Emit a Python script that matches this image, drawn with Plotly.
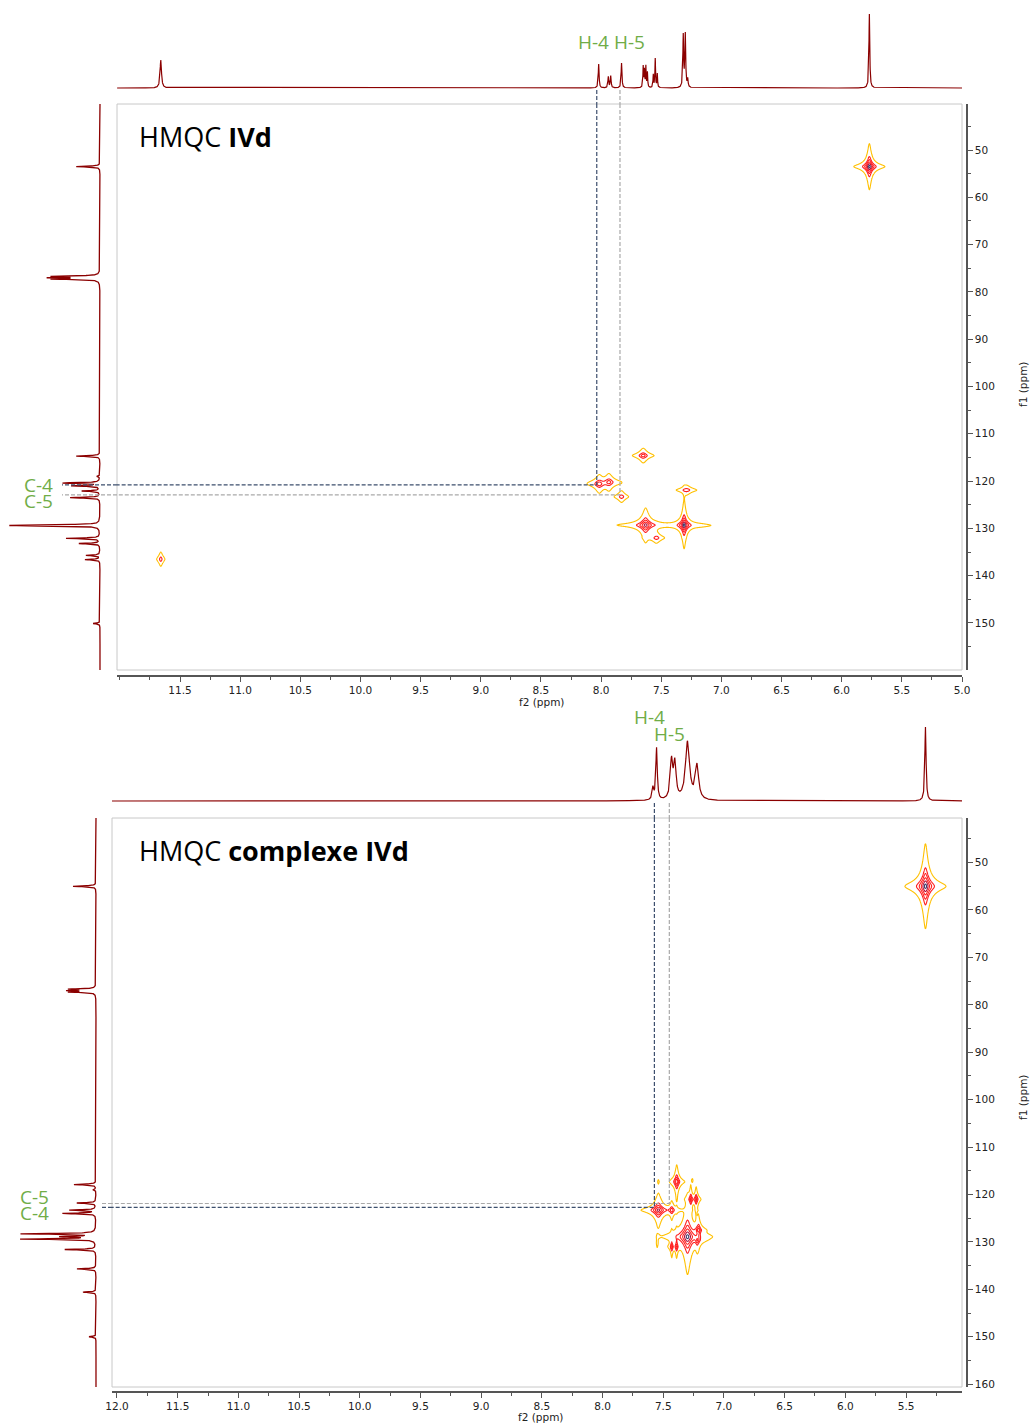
import numpy as np
import plotly.graph_objects as go

W, H = 1030, 1424

# ---------------- data : top experiment (HMQC IVd) ----------------
TOP_X_RANGE = [12.024, 5.0]
TOP_Y_RANGE = [159.94, 40.27]
TOP_X_TICKS = [11.5, 11.0, 10.5, 10.0, 9.5, 9.0, 8.5, 8.0, 7.5, 7.0, 6.5, 6.0, 5.5, 5.0]
TOP_Y_TICKS = [50, 60, 70, 80, 90, 100, 110, 120, 130, 140, 150]

H1_TOP_PPM = [11.66, 8.02, 7.94, 7.92, 7.83, 7.650, 7.640, 7.628, 7.615,
              7.566, 7.550, 7.533, 7.317, 7.300, 7.280, 5.77]
H1_TOP_INT = [28, 24, 11, 12, 25, 21, 17, 21, 15, 13, 29, 14, 52, 53, 8, 74]
H1_TOP_HWHM = [0.007, 0.004, 0.004, 0.004, 0.004, 0.003, 0.003, 0.003, 0.003,
               0.003, 0.003, 0.003, 0.004, 0.004, 0.004, 0.004]

C13_TOP_PPM = [53.5, 76.7, 77.0, 77.3, 114.7, 119.0, 120.4, 121.0, 122.1, 123.5,
               129.2, 129.4, 132.1, 133.2, 135.7, 136.6, 150.1]
C13_TOP_INT = [24, 44, 45, 44, 24, 3, 37, 28, 18, 30, 16, 88, 34, 21, 14, 15, 7]

# cross peaks: f2 (1H), f1 (13C), amplitude, f2 width, f1 width, group
XP_TOP_F2 = [5.77, 11.66, 7.65, 8.015, 7.935, 7.83, 7.29, 7.63, 7.63, 7.31, 7.18, 7.54]
XP_TOP_F1 = [53.5, 136.5, 114.6, 120.6, 120.2, 123.3, 121.9, 129.3, 129.3, 129.3, 129.4, 132.0]
XP_TOP_AMP = [1.0, 0.08, 0.14, 0.15, 0.13, 0.08, 0.09, 0.5, 0.012, 1.0, 0.012, 0.08]
XP_TOP_W2 = [0.013, 0.013, 0.025, 0.025, 0.025, 0.022, 0.03, 0.022, 0.2, 0.012, 0.08, 0.025]
XP_TOP_W1 = [0.49, 0.57, 0.42, 0.5, 0.5, 0.45, 0.35, 0.51, 0.3, 0.5, 0.3, 0.42]
XP_TOP_GROUP = [0, 1, 2, 2, 2, 2, 2, 2, 2, 2, 2, 2]

LINK_TOP_F2 = [8.036, 7.843]
LINK_TOP_F1 = [120.8, 122.9]

# ---------------- data : bottom experiment (HMQC complexe IVd) ----------------
BOT_X_RANGE = [12.041, 5.039]
BOT_Y_RANGE = [160.6, 40.6]
BOT_X_TICKS = [12.0, 11.5, 11.0, 10.5, 10.0, 9.5, 9.0, 8.5, 8.0, 7.5, 7.0, 6.5, 6.0, 5.5]
BOT_Y_TICKS = [50, 60, 70, 80, 90, 100, 110, 120, 130, 140, 150, 160]

H1_BOT_PPM = [7.585, 7.555, 7.432, 7.404, 7.300, 7.222, 5.34]
H1_BOT_INT = [12, 52, 38, 35, 58, 34, 74]
H1_BOT_HWHM = [0.008, 0.007, 0.012, 0.012, 0.02, 0.016, 0.006]

C13_BOT_PPM = [55.0, 76.7, 77.0, 77.3, 117.9, 119.0, 121.8, 123.3, 124.0,
               128.3, 128.9, 129.4, 131.6, 135.7, 140.6, 150.0]
C13_BOT_INT = [23, 25, 25, 25, 22, 3, 19, 26, 33, 74, 32, 74, 31, 19, 13, 7]

XP_BOT_F2 = [5.34, 7.389, 7.273, 7.229, 7.54, 7.43, 7.30, 7.21, 7.22, 7.43, 7.39, 7.55, 7.54, 7.26]
XP_BOT_F1 = [55.0, 117.3, 121.0, 121.0, 123.3, 123.3, 128.9, 127.5, 129.6, 131.0, 131.0, 130.3, 117.3, 117.0]
XP_BOT_AMP = [1.0, 0.35, 0.25, 0.25, 0.5, 0.15, 1.0, 0.3, 0.2, 0.2, 0.2, 0.015, 0.013, 0.013]
XP_BOT_W2 = [0.017, 0.01, 0.007, 0.007, 0.02, 0.012, 0.02, 0.01, 0.01, 0.006, 0.006, 0.006, 0.005, 0.005]
XP_BOT_W1 = [0.9, 0.6, 0.5, 0.5, 0.5, 0.45, 0.8, 0.5, 0.5, 0.5, 0.5, 0.8, 0.4, 0.4]
XP_BOT_GROUP = [0, 1, 1, 1, 1, 1, 1, 1, 1, 1, 1, 1, 1, 1]

LINK_BOT_F2 = [7.573, 7.45]
LINK_BOT_F1 = [122.7, 121.9]

LINK_COLORS = ["#3d4f6d", "#a9a9a9"]

# ---------------- styling helpers ----------------
SPEC_COLOR = "#8b0000"
C_Y, C_R, C_DR, C_NV = "#ffc000", "#ff2020", "#b0103a", "#3b3b6b"
LV_START, LV_STEP, LV_N = -2.0, 0.1, 20
LEVEL_COLORS = {0: C_Y, 7: C_R, 10: C_R, 13: C_R, 16: C_DR, 19: C_NV}


def make_cscale():
    cs = []
    for i in range(LV_N):
        col = LEVEL_COLORS.get(i, "rgba(0,0,0,0)")
        cs.append([i / LV_N, col])
        cs.append([(i + 1) / LV_N, col])
    return cs


CSCALE = make_cscale()


def dx(p):
    return p / W


def dy(p):
    return 1 - p / H


def lorentz_line(grid, centers, heights, hwhm):
    out = np.zeros_like(grid)
    for c, h, w in zip(centers, heights, hwhm):
        out += h / (1 + ((grid - c) / w) ** 2)
    return out


def cross_grid(f2, f1, amp, w2, w1):
    x = np.arange(min(f2) - 0.3, max(f2) + 0.3, 0.002)
    y = np.arange(min(f1) - 11, max(f1) + 11, 0.1)
    X, Y = np.meshgrid(x, y)
    Z = np.zeros_like(X)
    for a, b, c, d, e in zip(f2, f1, amp, w2, w1):
        Z += c / ((1 + ((X - a) / d) ** 2) * (1 + ((Y - b) / e) ** 2))
    return np.round(x, 4), np.round(y, 2), np.round(np.log10(Z + 1e-6), 3)


fig = go.Figure()


def add_panel(sfx2d, sfxh, sfxc, xr, yr, h1, c13, xp, links, c13_link_x):
    h1_ppm, h1_int, h1_w = h1
    grid = np.arange(min(xr), max(xr), 0.001)
    fig.add_trace(go.Scatter(x=np.round(grid, 4), y=np.round(lorentz_line(grid, h1_ppm, h1_int, h1_w), 2),
                             mode="lines", line=dict(color=SPEC_COLOR, width=1.2),
                             xaxis="x" + sfxh, yaxis="y" + sfxh, hoverinfo="skip", showlegend=False))
    c_ppm, c_int = c13
    cg = np.arange(min(yr), max(yr), 0.02)
    fig.add_trace(go.Scatter(x=np.round(lorentz_line(cg, c_ppm, c_int, [0.1] * len(c_ppm)), 2), y=np.round(cg, 3),
                             mode="lines", line=dict(color=SPEC_COLOR, width=1.3),
                             xaxis="x" + sfxc, yaxis="y" + sfxc, hoverinfo="skip", showlegend=False))
    f2, f1, amp, w2, w1, grp = xp
    for g in sorted(set(grp)):
        idx = [i for i, v in enumerate(grp) if v == g]
        x, y, z = cross_grid([f2[i] for i in idx], [f1[i] for i in idx], [amp[i] for i in idx],
                             [w2[i] for i in idx], [w1[i] for i in idx])
        fig.add_trace(go.Contour(x=x, y=y, z=z, xaxis="x" + sfx2d, yaxis="y" + sfx2d,
                                 autocontour=False,
                                 contours=dict(start=LV_START, end=LV_START + (LV_N - 1) * LV_STEP,
                                               size=LV_STEP, coloring="lines"),
                                 colorscale=CSCALE, zmin=LV_START - LV_STEP / 2,
                                 zmax=LV_START + (LV_N - 0.5) * LV_STEP,
                                 zauto=False, showscale=False, line=dict(width=1.1, smoothing=1),
                                 hoverinfo="skip"))
    l_f2, l_f1 = links
    for k in range(len(l_f2)):
        st = dict(color=LINK_COLORS[k], width=1.2, dash="4px,2px")
        fig.add_trace(go.Scatter(x=[l_f2[k], l_f2[k]], y=[-30, 0], mode="lines", line=st,
                                 xaxis="x" + sfxh, yaxis="y" + sfxh, hoverinfo="skip", showlegend=False))
        fig.add_trace(go.Scatter(x=[l_f2[k], l_f2[k], max(xr)], y=[min(yr), l_f1[k], l_f1[k]],
                                 mode="lines", line=st, xaxis="x" + sfx2d, yaxis="y" + sfx2d,
                                 hoverinfo="skip", showlegend=False))
        fig.add_trace(go.Scatter(x=c13_link_x[k], y=[l_f1[k], l_f1[k]], mode="lines", line=st,
                                 xaxis="x" + sfxc, yaxis="y" + sfxc, hoverinfo="skip", showlegend=False))


add_panel("", "2", "3", TOP_X_RANGE, TOP_Y_RANGE,
          (H1_TOP_PPM, H1_TOP_INT, H1_TOP_HWHM), (C13_TOP_PPM, C13_TOP_INT),
          (XP_TOP_F2, XP_TOP_F1, XP_TOP_AMP, XP_TOP_W2, XP_TOP_W1, XP_TOP_GROUP),
          (LINK_TOP_F2, LINK_TOP_F1), [[-17, 38], [-17, 38]])
add_panel("4", "5", "6", BOT_X_RANGE, BOT_Y_RANGE,
          (H1_BOT_PPM, H1_BOT_INT, H1_BOT_HWHM), (C13_BOT_PPM, C13_BOT_INT),
          (XP_BOT_F2, XP_BOT_F1, XP_BOT_AMP, XP_BOT_W2, XP_BOT_W1, XP_BOT_GROUP),
          (LINK_BOT_F2, LINK_BOT_F1), [[-16, -4], [-16, -4]])

AX_COLOR = "#555555"
TICKFONT = dict(family="DejaVu Sans", size=10.5, color="#222222")
common = dict(showgrid=False, zeroline=False, showline=True, linecolor=AX_COLOR, linewidth=1.5,
              ticks="outside", ticklen=5, tickwidth=1, tickcolor=AX_COLOR, tickfont=TICKFONT,
              automargin=False)
hidden = dict(visible=False, showgrid=False, zeroline=False, fixedrange=True, automargin=False)
minor_x = dict(dtick=0.25, tick0=0, ticks="outside", ticklen=3, tickcolor=AX_COLOR, showgrid=False)
minor_y = dict(dtick=5, tick0=0, ticks="outside", ticklen=3, tickcolor=AX_COLOR, showgrid=False)

layout = dict(
    width=W, height=H, autosize=False,
    margin=dict(l=0, r=0, t=0, b=0, pad=0, autoexpand=False),
    paper_bgcolor="white", plot_bgcolor="white", showlegend=False,
    xaxis=dict(domain=[dx(117), dx(962)], range=TOP_X_RANGE, anchor="free", position=dy(676),
               tickvals=TOP_X_TICKS, ticktext=[f"{v:.1f}" for v in TOP_X_TICKS], minor=minor_x, **common),
    yaxis=dict(domain=[dy(670), dy(104)], range=TOP_Y_RANGE, anchor="free", position=dx(967), side="right",
               tickvals=TOP_Y_TICKS, ticktext=[str(v) for v in TOP_Y_TICKS], minor=minor_y, **common),
    xaxis2=dict(domain=[dx(117), dx(962)], range=TOP_X_RANGE, anchor="y2", **hidden),
    yaxis2=dict(domain=[dy(104), dy(8)], range=[-16, 80], anchor="x2", **hidden),
    xaxis3=dict(domain=[0, dx(117)], range=[100, -17], anchor="y3", **hidden),
    yaxis3=dict(domain=[dy(670), dy(104)], range=TOP_Y_RANGE, anchor="x3", **hidden),
    xaxis4=dict(domain=[dx(112), dx(962)], range=BOT_X_RANGE, anchor="free", position=dy(1392),
                tickvals=BOT_X_TICKS, ticktext=[f"{v:.1f}" for v in BOT_X_TICKS], minor=minor_x, **common),
    yaxis4=dict(domain=[dy(1387), dy(818)], range=BOT_Y_RANGE, anchor="free", position=dx(967), side="right",
                tickvals=BOT_Y_TICKS, ticktext=[str(v) for v in BOT_Y_TICKS], minor=minor_y, **common),
    xaxis5=dict(domain=[dx(112), dx(962)], range=BOT_X_RANGE, anchor="y5", **hidden),
    yaxis5=dict(domain=[dy(818), dy(712)], range=[-17, 89], anchor="x5", **hidden),
    xaxis6=dict(domain=[0, dx(112)], range=[96, -16], anchor="y6", **hidden),
    yaxis6=dict(domain=[dy(1387), dy(818)], range=BOT_Y_RANGE, anchor="x6", **hidden),
)
fig.update_layout(**layout)

for xr_, yr_ in [("x domain", "y domain"), ("x4 domain", "y4 domain")]:
    fig.add_shape(type="rect", xref=xr_, yref=yr_, x0=0, x1=1, y0=0, y1=1,
                  line=dict(color="#c8c8c8", width=1), layer="below")

GREEN = "#70ad47"
LBL = dict(family="Open Sans", size=19, color=GREEN)
TITLE_FONT = dict(family="Open Sans", size=27, color="black")
AXT = dict(family="DejaVu Sans", size=10.5, color="#222222")

ann = [
    dict(text="HMQC <b>IVd</b>", x=dx(137), y=dy(137), xanchor="left", yanchor="middle", font=TITLE_FONT),
    dict(text="HMQC <b>complexe IVd</b>", x=dx(137), y=dy(850), xanchor="left", yanchor="middle", font=TITLE_FONT),
    dict(text="H-4 H-5", x=dx(611), y=dy(42), xanchor="center", yanchor="middle", font=LBL),
    dict(text="C-4", x=dx(38), y=dy(485), xanchor="center", yanchor="middle", font=LBL),
    dict(text="C-5", x=dx(38), y=dy(501), xanchor="center", yanchor="middle", font=LBL),
    dict(text="H-4", x=dx(649), y=dy(717), xanchor="center", yanchor="middle", font=LBL),
    dict(text="H-5", x=dx(669), y=dy(734), xanchor="center", yanchor="middle", font=LBL),
    dict(text="C-5", x=dx(34), y=dy(1197), xanchor="center", yanchor="middle", font=LBL),
    dict(text="C-4", x=dx(34), y=dy(1213), xanchor="center", yanchor="middle", font=LBL),
    dict(text="f2 (ppm)", x=dx(541), y=dy(702), xanchor="center", yanchor="middle", font=AXT),
    dict(text="f2 (ppm)", x=dx(540), y=dy(1417), xanchor="center", yanchor="middle", font=AXT),
    dict(text="f1 (ppm)", x=dx(1023), y=dy(385), xanchor="center", yanchor="middle", font=AXT, textangle=-90),
    dict(text="f1 (ppm)", x=dx(1023), y=dy(1098), xanchor="center", yanchor="middle", font=AXT, textangle=-90),
]
for a in ann:
    fig.add_annotation(xref="paper", yref="paper", showarrow=False, **a)

fig.write_html("out.html",
               config={"displayModeBar": False, "responsive": False},
               post_script=("document.documentElement.style.margin='0px';"
                            "document.documentElement.style.overflow='hidden';"
                            "document.body.style.margin='0px';"
                            "document.body.style.overflow='hidden';"))
